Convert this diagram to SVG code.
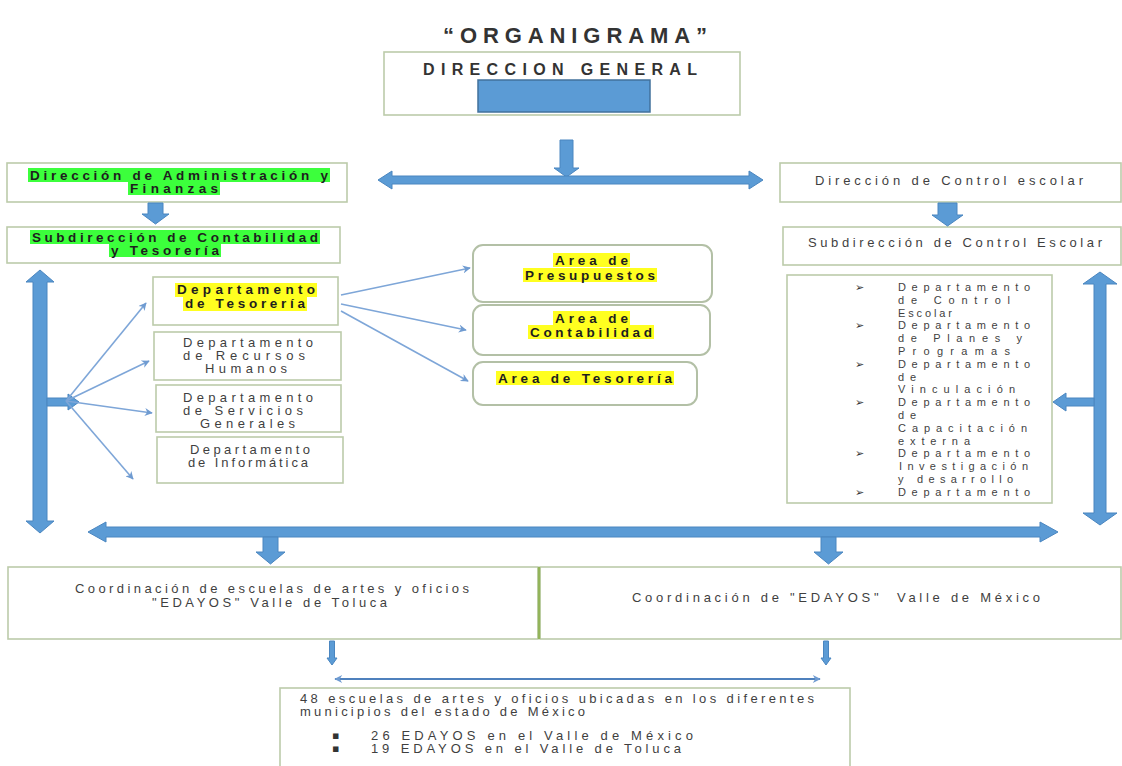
<svg xmlns="http://www.w3.org/2000/svg" width="1122" height="766" viewBox="0 0 1122 766">
<defs>
<marker id="ah" viewBox="0 0 10 10" refX="9" refY="5" markerWidth="10" markerHeight="8" markerUnits="userSpaceOnUse" orient="auto-start-reverse">
<path d="M0,0 L10,5 L0,10 L3,5 Z" fill="#6f9bd1"/>
</marker>
<style>
.box{fill:#fff;stroke:#bccbaa;stroke-width:1.6}
.rbox{fill:#fff;stroke:#b3c0a6;stroke-width:2}
.t{font-family:"Liberation Sans",Arial,sans-serif;font-size:13px;fill:#3f3f3f}
.l{font-family:"Liberation Sans",Arial,sans-serif;font-size:11px;fill:#3f3f3f}
.b{font-family:"Liberation Sans",Arial,sans-serif;font-size:13.5px;font-weight:bold;fill:#1e1e1e}
.blk{fill:#5b9bd5;stroke:#4a86c0;stroke-width:1}
.thin{stroke:#7ea6d8;stroke-width:1.6;fill:none;marker-end:url(#ah)}
.hg{fill:#3cff3c}
.hy{fill:#ffff20}
.bul{font-family:"DejaVu Sans",sans-serif;font-size:11px;fill:#333}
</style>
</defs>
<rect width="1122" height="766" fill="#fff"/>

<g id="title">
<text x="443" y="43" font-family="Liberation Sans,Arial,sans-serif" font-size="22" font-weight="bold" fill="#333" textLength="264" lengthAdjust="spacing">“ORGANIGRAMA”</text>
</g>

<g id="direccion-general">
<rect class="box" x="384" y="52" width="356" height="63"/>
<text x="423" y="75" font-family="Liberation Sans,Arial,sans-serif" font-size="16" font-weight="bold" fill="#333" textLength="274" lengthAdjust="spacing">DIRECCION GENERAL</text>
<rect x="478" y="80" width="172" height="32" fill="#5b9bd5" stroke="#41719c" stroke-width="1.5"/>
</g>

<g id="dir-admin">
<rect class="box" x="7" y="163" width="340" height="39"/>
<rect class="hg" x="28" y="168" width="302" height="14"/>
<rect class="hg" x="128" y="181" width="92" height="14"/>
<text class="b" x="30" y="179.5" textLength="298" lengthAdjust="spacing">Dirección de Administración y</text>
<text class="b" x="130" y="192.5" textLength="88" lengthAdjust="spacing">Finanzas</text>
</g>

<g id="subdir-contabilidad">
<rect class="box" x="7" y="227" width="333" height="36"/>
<rect class="hg" x="30" y="230" width="290" height="14"/>
<rect class="hg" x="109" y="243" width="112" height="14"/>
<text class="b" x="32" y="241.5" textLength="286" lengthAdjust="spacing">Subdirección de Contabilidad</text>
<text class="b" x="111" y="254.5" textLength="108" lengthAdjust="spacing">y Tesorería</text>
</g>

<g id="dep-tesoreria">
<rect class="box" x="153" y="277" width="185" height="48"/>
<rect class="hy" x="175" y="283" width="142" height="14"/>
<rect class="hy" x="183" y="297" width="124" height="14"/>
<text class="b" x="177" y="294" font-size="12.5" textLength="138" lengthAdjust="spacing">Departamento</text>
<text class="b" x="185" y="308" font-size="12.5" textLength="120" lengthAdjust="spacing">de Tesorería</text>
</g>

<g id="dep-rh">
<rect class="box" x="154" y="332" width="187" height="48"/>
<text class="t" x="183" y="346.5" textLength="130" lengthAdjust="spacing">Departamento</text>
<text class="t" x="183" y="359.5" textLength="122" lengthAdjust="spacing">de Recursos</text>
<text class="t" x="205" y="372.5" textLength="82" lengthAdjust="spacing">Humanos</text>
</g>

<g id="dep-sg">
<rect class="box" x="156" y="385" width="185" height="47"/>
<text class="t" x="183" y="401.5" textLength="130" lengthAdjust="spacing">Departamento</text>
<text class="t" x="183" y="414.5" textLength="120" lengthAdjust="spacing">de Servicios</text>
<text class="t" x="200" y="427.5" textLength="95" lengthAdjust="spacing">Generales</text>
</g>

<g id="dep-inf">
<rect class="box" x="157" y="437" width="186" height="46"/>
<text class="t" x="190" y="454" font-size="11.5" textLength="120" lengthAdjust="spacing">Departamento</text>
<text class="t" x="188" y="467" font-size="11.5" textLength="120" lengthAdjust="spacing">de Informática</text>
</g>

<g id="area-presupuestos">
<rect class="rbox" x="473" y="245" width="239" height="57" rx="10"/>
<rect class="hy" x="553" y="253" width="77" height="14"/>
<rect class="hy" x="523" y="268" width="134" height="14"/>
<text class="b" x="555" y="264.5" textLength="73" lengthAdjust="spacing">Area de</text>
<text class="b" x="525" y="279.5" textLength="130" lengthAdjust="spacing">Presupuestos</text>
</g>

<g id="area-contabilidad">
<rect class="rbox" x="473" y="305" width="237" height="50" rx="10"/>
<rect class="hy" x="553" y="311" width="77" height="14"/>
<rect class="hy" x="528" y="325" width="126" height="14"/>
<text class="b" x="555" y="322.5" textLength="73" lengthAdjust="spacing">Area de</text>
<text class="b" x="530" y="336.5" textLength="122" lengthAdjust="spacing">Contabilidad</text>
</g>

<g id="area-tesoreria">
<rect class="rbox" x="473" y="362" width="224" height="43" rx="10"/>
<rect class="hy" x="496" y="371" width="178" height="14"/>
<text class="b" x="498" y="382.5" textLength="174" lengthAdjust="spacing">Area de Tesorería</text>
</g>

<g id="dir-control">
<rect class="box" x="780" y="163" width="341" height="39"/>
<text class="t" x="815" y="184.5" textLength="268" lengthAdjust="spacing">Dirección de Control escolar</text>
</g>

<g id="subdir-control">
<rect class="box" x="783" y="227" width="338" height="38"/>
<text class="t" x="808" y="246.5" textLength="294" lengthAdjust="spacing">Subdirección de Control Escolar</text>
</g>

<g id="lista-departamentos">
<rect class="box" x="787" y="275" width="265" height="228"/>
<text class="bul" x="855" y="291">➢</text>
<text class="bul" x="855" y="329.4">➢</text>
<text class="bul" x="855" y="367.8">➢</text>
<text class="bul" x="855" y="406.2">➢</text>
<text class="bul" x="855" y="457.4">➢</text>
<text class="bul" x="855" y="495.8">➢</text>
<text class="l" x="898" y="291" textLength="132" lengthAdjust="spacing">Departamento</text>
<text class="l" x="898" y="303.8" textLength="112" lengthAdjust="spacing">de Control</text>
<text class="l" x="898" y="316.6" textLength="54" lengthAdjust="spacing">Escolar</text>
<text class="l" x="898" y="329.4" textLength="132" lengthAdjust="spacing">Departamento</text>
<text class="l" x="898" y="342.2" textLength="124" lengthAdjust="spacing">de Planes y</text>
<text class="l" x="898" y="355" textLength="112" lengthAdjust="spacing">Programas</text>
<text class="l" x="898" y="367.8" textLength="132" lengthAdjust="spacing">Departamento</text>
<text class="l" x="898" y="380.6" textLength="18" lengthAdjust="spacing">de</text>
<text class="l" x="898" y="393.4" textLength="117" lengthAdjust="spacing">Vinculación</text>
<text class="l" x="898" y="406.2" textLength="132" lengthAdjust="spacing">Departamento</text>
<text class="l" x="898" y="419" textLength="18" lengthAdjust="spacing">de</text>
<text class="l" x="898" y="431.8" textLength="129" lengthAdjust="spacing">Capacitación</text>
<text class="l" x="898" y="444.6" textLength="72" lengthAdjust="spacing">externa</text>
<text class="l" x="898" y="457.4" textLength="132" lengthAdjust="spacing">Departamento</text>
<text class="l" x="899" y="470.2" textLength="129" lengthAdjust="spacing">Investigación</text>
<text class="l" x="898" y="483" textLength="115" lengthAdjust="spacing">y desarrollo</text>
<text class="l" x="898" y="495.8" textLength="132" lengthAdjust="spacing">Departamento</text>
</g>

<g id="coord-toluca">
<rect class="box" x="8" y="567" width="530" height="72"/>
<text class="t" x="75" y="593" textLength="394" lengthAdjust="spacing">Coordinación de escuelas de artes y oficios</text>
<text class="t" x="152" y="607" textLength="235" lengthAdjust="spacing">"EDAYOS" Valle de Toluca</text>
</g>

<g id="coord-mexico">
<rect class="box" x="540" y="567" width="581" height="72"/>
<line x1="539" y1="567" x2="539" y2="639" stroke="#93b45a" stroke-width="2.5"/>
<text class="t" x="632" y="602" textLength="408" lengthAdjust="spacing" xml:space="preserve">Coordinación de "EDAYOS"  Valle de México</text>
</g>

<g id="escuelas">
<rect class="box" x="280" y="688" width="570" height="90"/>
<text class="t" x="300" y="702.5" textLength="514" lengthAdjust="spacing">48 escuelas de artes y oficios ubicadas en los diferentes</text>
<text class="t" x="300" y="715.5" textLength="285" lengthAdjust="spacing">municipios del estado de México</text>
<text class="bul" x="332" y="739">▪</text>
<text class="bul" x="332" y="752">▪</text>
<text class="t" x="371" y="739.5" textLength="322" lengthAdjust="spacing">26 EDAYOS en el Valle de México</text>
<text class="t" x="371" y="752.5" textLength="310" lengthAdjust="spacing">19 EDAYOS en el Valle de Toluca</text>
</g>

<g id="connectors">
<path class="blk" d="M560,140 H573 V168 H579 L566.5,177 L554,168 H560 Z"/>
<path class="blk" d="M378,180 L392,171 L392,176 L749,176 L749,171 L763,180 L749,189 L749,184 L392,184 L392,189 Z"/>
<path class="blk" d="M148,203 H163 V214 H169 L155.5,224 L142,214 H148 Z"/>
<path class="blk" d="M938,203 H957 V215 H963 L947.5,226 L932,215 H938 Z"/>
<path class="blk" d="M40,270 L54,282 H47 V521 H54 L40,533 L26,521 H33 V282 H26 Z"/>
<path class="blk" d="M47,398 H68 V394 L79,402 L68,410 V406 H47 Z"/>
<path class="blk" d="M1100,272 L1117,284 H1106 V513 H1117 L1100,525 L1083,513 H1094 V284 H1083 Z"/>
<path class="blk" d="M1094,398 H1066 V393 L1053,402 L1066,411 V406 H1094 Z"/>
<path class="blk" d="M88,532 L106,522 V527 H1040 V522 L1058,532 L1040,542 V537 H106 V542 Z"/>
<path class="blk" d="M263,537 H278 V552 H285 L270.5,564 L256,552 H263 Z"/>
<path class="blk" d="M821,537 H836 V552 H843 L828.5,564 L814,552 H821 Z"/>
<path class="blk" d="M329.5,641 H334.5 V658 H337 L332,665 L327,658 H329.5 Z"/>
<path class="blk" d="M823.5,641 H828.5 V658 H831 L826,665 L821,658 H823.5 Z"/>
<line x1="335" y1="679" x2="820" y2="679" stroke="#4f81bd" stroke-width="2" marker-start="url(#ah)" marker-end="url(#ah)"/>
<line class="thin" x1="66" y1="401" x2="146" y2="303"/>
<line class="thin" x1="66" y1="401" x2="149" y2="361"/>
<line class="thin" x1="66" y1="401" x2="152" y2="413"/>
<line class="thin" x1="66" y1="401" x2="133" y2="479"/>
<line class="thin" x1="341" y1="295" x2="470" y2="268"/>
<line class="thin" x1="341" y1="304" x2="466" y2="330"/>
<line class="thin" x1="341" y1="311" x2="468" y2="381"/>
</g>
</svg>
